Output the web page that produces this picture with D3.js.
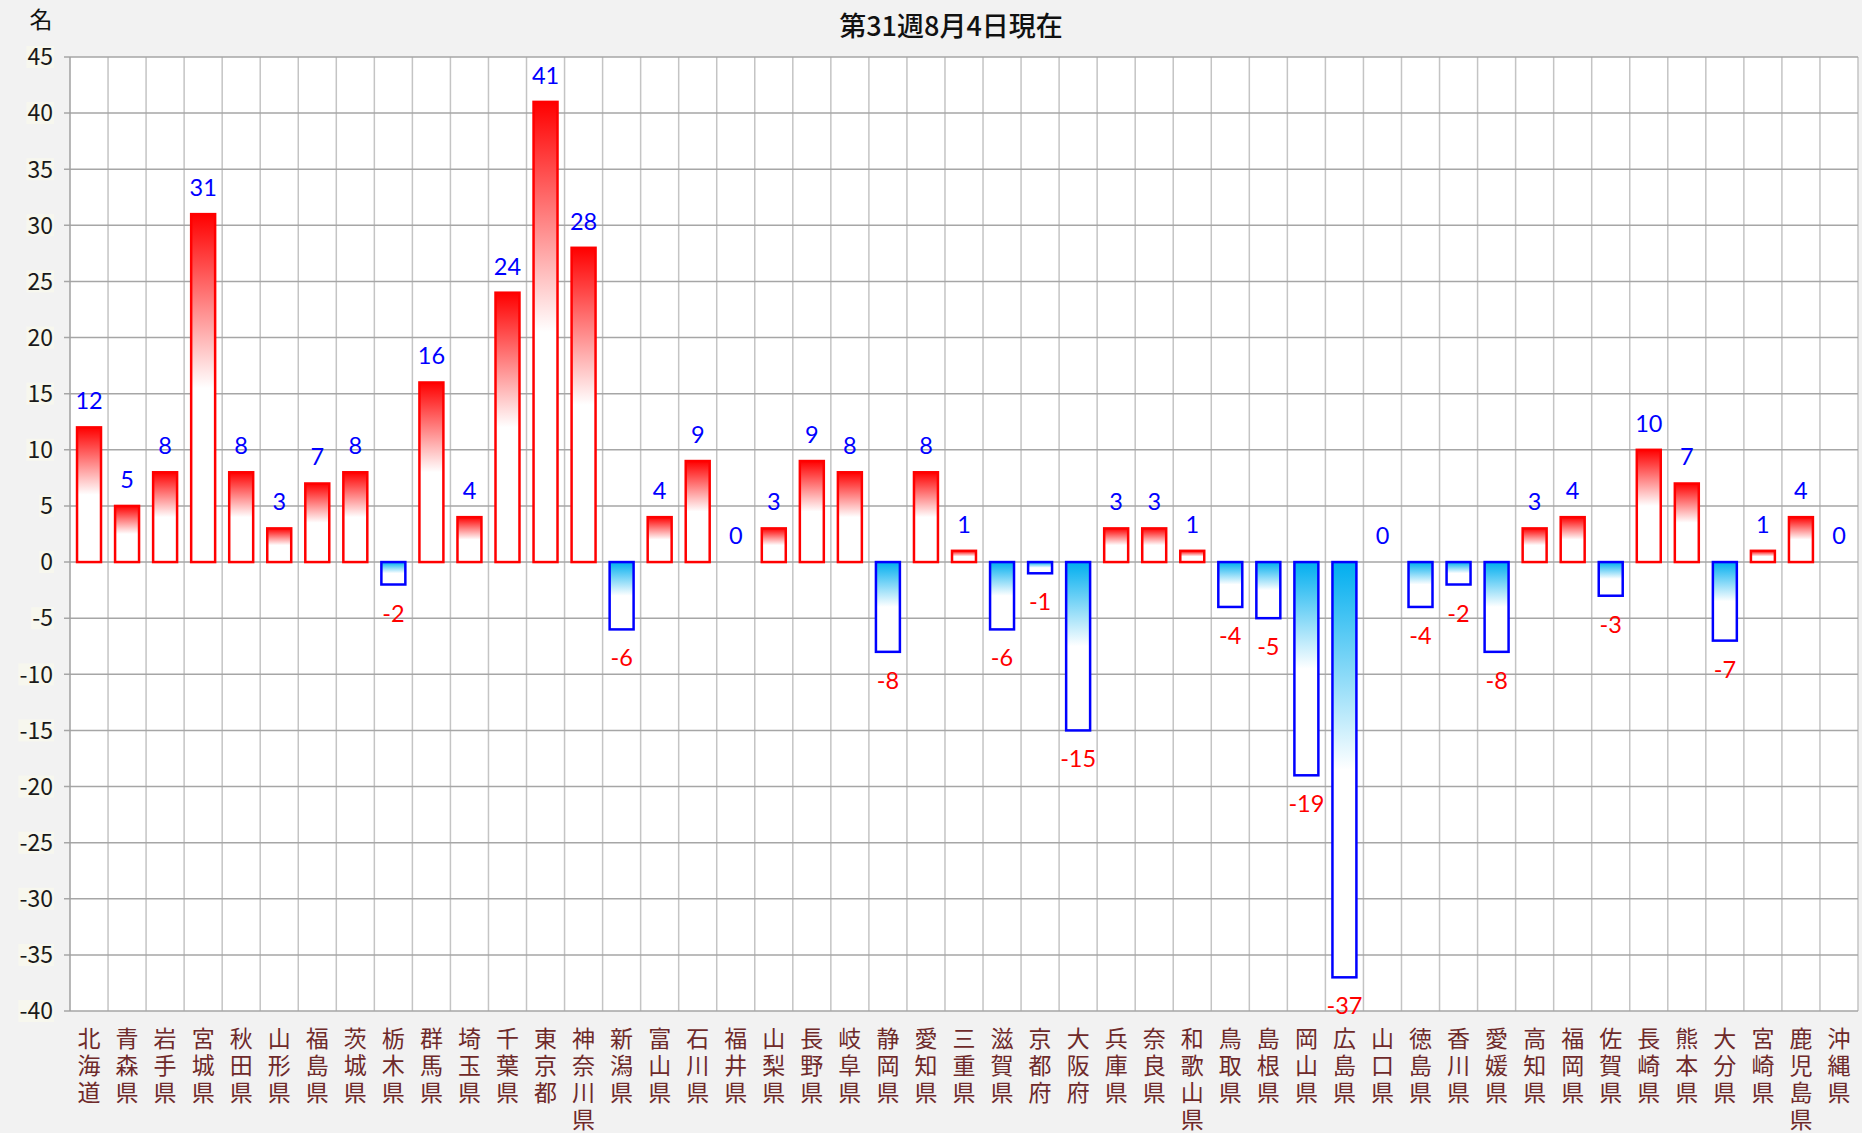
<!DOCTYPE html>
<html><head><meta charset="utf-8">
<script src="https://cdn.jsdelivr.net/npm/d3@7"></script>
<style>
html,body{margin:0;padding:0;background:#f2f2f2;}
svg{display:block;}
</style></head>
<body>
<svg id="c" width="1862" height="1133"></svg>
<script>
const categories = ["北海道","青森県","岩手県","宮城県","秋田県","山形県","福島県","茨城県","栃木県","群馬県","埼玉県","千葉県","東京都","神奈川県","新潟県","富山県","石川県","福井県","山梨県","長野県","岐阜県","静岡県","愛知県","三重県","滋賀県","京都府","大阪府","兵庫県","奈良県","和歌山県","鳥取県","島根県","岡山県","広島県","山口県","徳島県","香川県","愛媛県","高知県","福岡県","佐賀県","長崎県","熊本県","大分県","宮崎県","鹿児島県","沖縄県"];
const values = [12,5,8,31,8,3,7,8,-2,16,4,24,41,28,-6,4,9,0,3,9,8,-8,8,1,-6,-1,-15,3,3,1,-4,-5,-19,-37,0,-4,-2,-8,3,4,-3,10,7,-7,1,4,0];
const yTicks = [45,40,35,30,25,20,15,10,5,0,-5,-10,-15,-20,-25,-30,-35,-40];
const title = "第31週8月4日現在";
const unitLabel = "名";

const svg = d3.select("#c");
const L = 70, R = 1858, T = 57, B = 1011;
const x = d3.scaleBand().domain(categories).range([L, R]).paddingInner(0.37).paddingOuter(0.185);
const xb = d3.scaleBand().domain(categories).range([L, R]);
const y = d3.scaleLinear().domain([-40, 45]).range([B, T]);

const defs = svg.append("defs");
const gp = defs.append("linearGradient").attr("id","gpos").attr("x1",0).attr("y1",0).attr("x2",0).attr("y2",1);
gp.append("stop").attr("offset","0%").attr("stop-color","#ff0000");
gp.append("stop").attr("offset","50%").attr("stop-color","#ffffff");
gp.append("stop").attr("offset","100%").attr("stop-color","#ffffff");
const gn = defs.append("linearGradient").attr("id","gneg").attr("x1",0).attr("y1",0).attr("x2",0).attr("y2",1);
gn.append("stop").attr("offset","0%").attr("stop-color","#00aeef");
gn.append("stop").attr("offset","50%").attr("stop-color","#ffffff");
gn.append("stop").attr("offset","100%").attr("stop-color","#ffffff");

// plot background
svg.append("rect").attr("x",L).attr("y",T).attr("width",R-L).attr("height",B-T).attr("fill","#ffffff");

// vertical gridlines
const vg = svg.append("g");
categories.forEach((c,i)=>{
  if(i===0) return;
  vg.append("line").attr("x1",xb(c)).attr("x2",xb(c)).attr("y1",T).attr("y2",B)
    .attr("stroke","#c4c4c4").attr("stroke-width",1.5);
});
vg.append("line").attr("x1",R).attr("x2",R).attr("y1",T).attr("y2",B).attr("stroke","#c4c4c4").attr("stroke-width",1.5);

// horizontal gridlines
const hg = svg.append("g");
yTicks.forEach(t=>{
  hg.append("line").attr("x1",L-6).attr("x2",R).attr("y1",y(t)).attr("y2",y(t))
    .attr("stroke","#a6a6a6").attr("stroke-width",1.5);
});
// y axis line
svg.append("line").attr("x1",L).attr("x2",L).attr("y1",T).attr("y2",B).attr("stroke","#a0a0a0").attr("stroke-width",1.5);

// y tick labels
const yl = svg.append("g");
yTicks.forEach(t=>{
  const g = yl.append("g");
  const txt = g.append("text").attr("x",53).attr("y",y(t)).attr("dy","0.36em")
    .attr("text-anchor","end").attr("font-family","'Noto Sans CJK JP','Noto Sans',sans-serif")
    .attr("font-size",23).attr("fill","#1a1a1a").text(t);
  const bb = txt.node().getBBox();
  g.insert("rect","text").attr("x",bb.x-1).attr("y",y(t)-11).attr("width",bb.width+2).attr("height",22).attr("fill","#f7f7ee");
});

// bars
svg.append("g").selectAll("rect").data(values.map((v,i)=>({v,c:categories[i]}))).join("rect")
  .filter(d=>d.v!==0)
  .attr("x",d=>x(d.c)).attr("width",x.bandwidth())
  .attr("y",d=>y(Math.max(0,d.v))).attr("height",d=>Math.abs(y(d.v)-y(0)))
  .attr("fill",d=>d.v>0?"url(#gpos)":"url(#gneg)")
  .attr("stroke",d=>d.v>0?"#ff0000":"#0000ff").attr("stroke-width",2.5);

// data labels
svg.append("g").selectAll("text").data(values.map((v,i)=>({v,c:categories[i]}))).join("text")
  .attr("x",d=>xb(d.c)+xb.bandwidth()/2)
  .attr("y",d=>d.v>=0 ? y(d.v)-18 : y(d.v)+37)
  .attr("text-anchor","middle")
  .attr("font-family","Lato,'Open Sans',sans-serif").attr("font-size",23.5)
  .attr("fill",d=>d.v>=0?"#0000ff":"#ff0000")
  .text(d=>d.v);

// x labels (vertical stacked characters)
const xl = svg.append("g");
categories.forEach(c=>{
  const cx = xb(c)+xb.bandwidth()/2;
  const t = xl.append("text").attr("text-anchor","middle").attr("font-family","'Noto Sans CJK JP',sans-serif")
      .attr("font-size",23).attr("fill","#6e2a2a");
  Array.from(c).forEach((ch,j)=>{
    t.append("tspan").attr("x",cx).attr("y",1047+j*27).text(ch);
  });
});

// title and unit
svg.append("text").attr("x",951).attr("y",36).attr("text-anchor","middle")
  .attr("font-family","'Noto Sans CJK JP',sans-serif").attr("font-size",27).attr("font-weight",500)
  .attr("fill","#111").text(title);
svg.append("text").attr("x",41).attr("y",28).attr("text-anchor","middle")
  .attr("font-family","'Noto Sans CJK JP',sans-serif").attr("font-size",23)
  .attr("fill","#111").text(unitLabel);
</script>
</body></html>
